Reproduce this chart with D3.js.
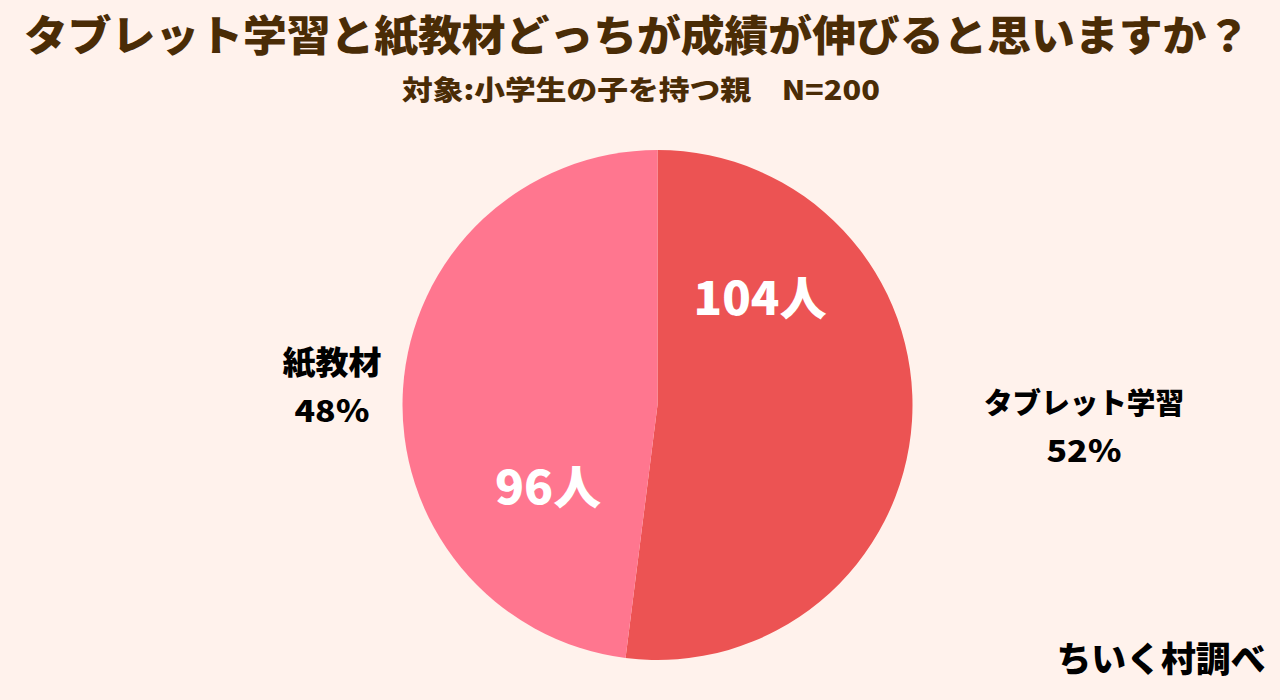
<!DOCTYPE html>
<html>
<head>
<meta charset="utf-8">
<script src="https://cdn.jsdelivr.net/npm/d3@7"></script>
<style>
html, body { margin: 0; padding: 0; background: #fff2ec; }
svg { display: block; }
text { font-family: "Noto Sans CJK JP", sans-serif; font-weight: 900; text-anchor: middle; }
</style>
</head>
<body>
<script>
var categories = ['タブレット学習', '紙教材'];
var percents = [52, 48];
var people = [104, 96];
var colours = ['#ec5353', '#ff768f'];

var svg = d3.select('body').append('svg')
    .attr('width', 1280)
    .attr('height', 700);

// text with a fixed drawn width, so it spans the same as the picture
function addText(str, x, y, size, len, fill) {
    return svg.append('text')
        .attr('x', x)
        .attr('y', y)
        .attr('fill', fill)
        .attr('textLength', len)
        .attr('lengthAdjust', 'spacingAndGlyphs')
        .style('font-size', size + 'px')
        .text(str);
}

addText('タブレット学習と紙教材どっちが成績が伸びると思いますか？', 637, 51, 42, 1226, '#4a2c06');
addText('対象:小学生の子を持つ親　N=200', 641, 100, 27, 478, '#4a2c06');

var radius = 255;

var pie = d3.pie().sort(null)(people);
var arc = d3.arc().innerRadius(0).outerRadius(radius);

var g = svg.append('g')
    .attr('transform', 'translate(657.5,405)');

g.selectAll('path')
    .data(pie)
    .enter()
    .append('path')
    .attr('d', arc)
    .attr('fill', (d, i) => colours[i]);

// counts inside the slices
var countX = [760, 548];
var countY = [315, 504];
var countLen = [133, 106];

people.forEach((p, i) => {
    addText(p + '人', countX[i], countY[i], 46, countLen[i], '#ffffff');
});

// outside labels
var labelX = [1084, 332];
var labelY = [414, 374];
var labelSize = [29, 32];
var labelLen = [200, 99];

categories.forEach((c, i) => {
    addText(c, labelX[i], labelY[i], labelSize[i], labelLen[i], '#000000');
    addText(percents[i] + '％', labelX[i], labelY[i] + 48, 29, 75, '#000000');
});

addText('ちいく村調べ', 1161, 672, 35, 209, '#000000');
</script>
</body>
</html>
